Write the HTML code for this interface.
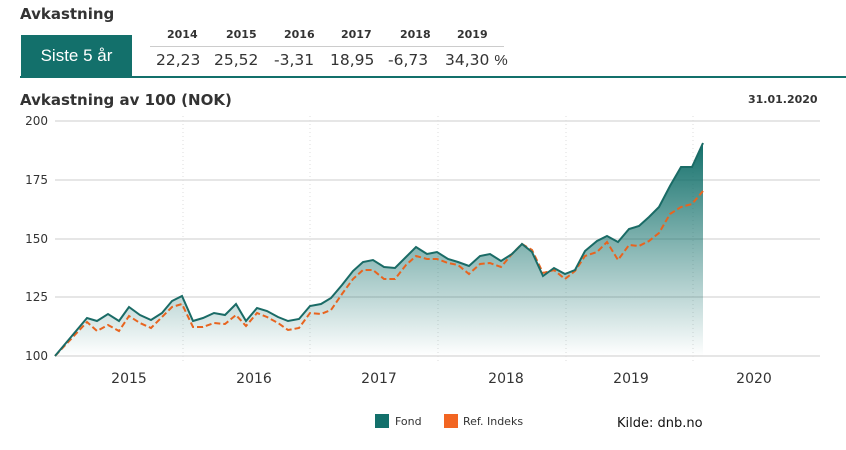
<!DOCTYPE html>
<html><head><meta charset="utf-8"><style>
body{margin:0;width:846px;height:450px;background:#fff;font-family:"Liberation Sans","DejaVu Sans",sans-serif;position:relative;overflow:hidden}
.a{position:absolute;white-space:nowrap}
</style></head><body>
<div class="a" style="left:20px;top:5px;font:bold 15px 'DejaVu Sans',sans-serif;color:#333">Avkastning</div>
<div class="a" style="left:21px;top:35px;width:111px;height:41px;background:#13706b;color:#fff;font-size:17px;line-height:41px;text-align:center">Siste 5 år</div>
<div class="a" style="left:150px;top:46px;width:354px;height:1px;background:#ccc"></div>
<div class="a" style="left:20px;top:76px;width:826px;height:2px;background:#13706b"></div>
<div class="a" style="left:150px;top:28px;font:bold 11px 'DejaVu Sans',sans-serif;color:#333;word-spacing:0">
<span style="position:absolute;left:17px">2014</span><span style="position:absolute;left:76px">2015</span><span style="position:absolute;left:134px">2016</span><span style="position:absolute;left:191px">2017</span><span style="position:absolute;left:250px">2018</span><span style="position:absolute;left:307px">2019</span></div>
<div class="a" style="left:150px;top:51px;font:15.5px 'DejaVu Sans',sans-serif;color:#333">
<span style="position:absolute;left:6px">22,23</span><span style="position:absolute;left:64px">25,52</span><span style="position:absolute;left:124px">-3,31</span><span style="position:absolute;left:180px">18,95</span><span style="position:absolute;left:238px">-6,73</span><span style="position:absolute;left:295px">34,30&nbsp;<span style="font-family:'Liberation Sans';font-size:15px">%</span></span></div>
<div class="a" style="left:20px;top:91px;font:bold 15px 'DejaVu Sans',sans-serif;color:#333">Avkastning av 100 (NOK)</div>
<div class="a" style="left:748px;top:93px;font:bold 11px 'DejaVu Sans',sans-serif;color:#333">31.01.2020</div>
<svg class="a" style="left:0;top:0" width="846" height="450">
<defs><linearGradient id="g" x1="0" y1="143" x2="0" y2="356" gradientUnits="userSpaceOnUse"><stop offset="0" stop-color="#13706b"/><stop offset="1" stop-color="#13706b" stop-opacity="0"/></linearGradient></defs>
<g stroke="#ddd" stroke-width="1" stroke-dasharray="1,3">
<line x1="183" y1="116" x2="183" y2="362"/><line x1="310" y1="116" x2="310" y2="362"/><line x1="438" y1="116" x2="438" y2="362"/><line x1="566" y1="116" x2="566" y2="362"/><line x1="693" y1="116" x2="693" y2="362"/></g>
<g stroke="#ddd" stroke-width="1.5"><line x1="55" y1="121" x2="820" y2="121"/><line x1="55" y1="180" x2="820" y2="180"/><line x1="55" y1="239" x2="820" y2="239"/><line x1="55" y1="297" x2="820" y2="297"/><line x1="55" y1="356" x2="820" y2="356"/></g>
<g font-family="DejaVu Sans" font-size="12" fill="#333" text-anchor="end"><text x="48" y="125">200</text><text x="48" y="184">175</text><text x="48" y="243">150</text><text x="48" y="301">125</text><text x="48" y="360">100</text></g>
<g font-family="DejaVu Sans" font-size="14" fill="#333" text-anchor="middle"><text x="129" y="383">2015</text><text x="254" y="383">2016</text><text x="379" y="383">2017</text><text x="506" y="383">2018</text><text x="631" y="383">2019</text><text x="754" y="383">2020</text></g>
<path fill="url(#g)" d="M55,356 L87,318 97,321 108,314 119,321 129,307 140,315 151,320 162,313 172,301 182,296 193,321 203,318 214,313 225,315 236,304 246,321 257,308 267,311 278,317 288,321 299,319 310,306 321,304 331,298 342,285 353,271 363,262 373,260 384,267 395,268 406,257 416,247 427,254 437,252 448,259 458,262 469,266 480,256 490,254 501,261 512,254 522,244 532,252 543,276 554,268 565,274 575,270 585,251 597,241 607,236 618,242 629,229 639,226 649,217 659,207 670,186 681,167 692,167 703,143 L703,356 Z"/>
<polyline fill="none" stroke="#e8641f" stroke-width="2" stroke-dasharray="6,3" points="55,356 87,322 97,331 108,325 119,331 129,316 140,323 151,328 162,317 172,307 182,304 193,327 203,327 214,323 225,324 236,315 246,326 257,313 267,317 278,323 288,330 299,328 310,313 321,314 331,310 342,294 353,279 363,270 373,270 384,279 395,279 406,265 416,256 427,259 437,259 448,263 458,265 469,274 480,264 490,263 501,267 512,254 522,244 532,250 543,273 554,270 565,279 575,271 585,256 597,252 607,242 618,260 629,245 639,246 649,241 659,233 670,214 681,207 692,204 703,191"/>
<polyline fill="none" stroke="#1a6b66" stroke-width="2" points="55,356 87,318 97,321 108,314 119,321 129,307 140,315 151,320 162,313 172,301 182,296 193,321 203,318 214,313 225,315 236,304 246,321 257,308 267,311 278,317 288,321 299,319 310,306 321,304 331,298 342,285 353,271 363,262 373,260 384,267 395,268 406,257 416,247 427,254 437,252 448,259 458,262 469,266 480,256 490,254 501,261 512,254 522,244 532,252 543,276 554,268 565,274 575,270 585,251 597,241 607,236 618,242 629,229 639,226 649,217 659,207 670,186 681,167 692,167 703,143"/>
<rect x="375" y="414" width="14" height="14" fill="#13706b"/><rect x="444" y="414" width="14" height="14" fill="#f26522"/>
<g font-family="DejaVu Sans" font-size="11" fill="#333"><text x="395" y="425">Fond</text><text x="463" y="425">Ref. Indeks</text></g>
<text x="617" y="427" font-family="DejaVu Sans" font-size="13" fill="#111">Kilde: dnb.no</text>
</svg>
</body></html>
